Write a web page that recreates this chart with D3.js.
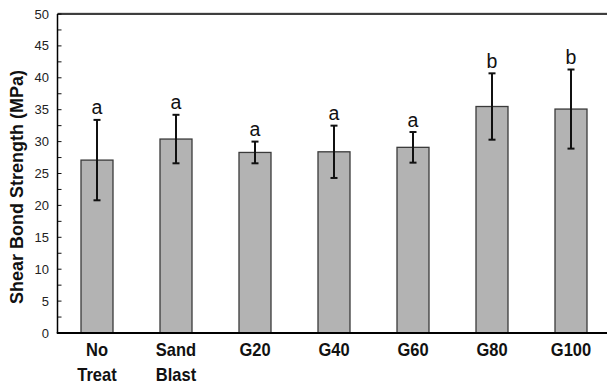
<!DOCTYPE html>
<html>
<head>
<meta charset="utf-8">
<script src="https://cdn.jsdelivr.net/npm/d3@7"></script>
<style>
  body { margin: 0; background: #fff; }
  svg { display: block; font-family: Arial, "Liberation Sans", sans-serif; }
</style>
</head>
<body>
<svg class="chart" width="607" height="385"></svg>
<script>
// data
const categories = ["No Treat", "Sand Blast", "G20", "G40", "G60", "G80", "G100"];
const means = [27.1, 30.4, 28.3, 28.4, 29.1, 35.5, 35.1];
const errors = [6.3, 3.8, 1.7, 4.1, 2.4, 5.2, 6.2];
const groupLetters = ["a", "a", "a", "a", "a", "b", "b"];
const yTicks = [0, 5, 10, 15, 20, 25, 30, 35, 40, 45, 50];

const svg = d3.select(".chart");

const plotLeft = 57.5, plotTop = 14, plotBottom = 333;
const step = 79; // distance between bar centres

const x = d3.scaleBand()
    .domain(categories)
    .range([plotLeft, plotLeft + step * categories.length])
    .paddingInner(0.595)
    .paddingOuter(0.2975);

const y = d3.scaleLinear()
    .domain([0, 50])
    .range([plotBottom, plotTop]);

// bars
svg.selectAll("rect.bar")
    .data(categories)
    .enter()
    .append("rect")
    .attr("class", "bar")
    .attr("x", d => x(d))
    .attr("y", (d, i) => y(means[i]))
    .attr("width", x.bandwidth())
    .attr("height", (d, i) => y(0) - y(means[i]))
    .style("fill", "#b3b3b3")
    .style("stroke", "#3a3a3a")
    .style("stroke-width", 1.3);

// error bars
const capHalf = 3.5;
categories.forEach((c, i) => {
    const cx = x(c) + x.bandwidth() / 2;
    const hi = y(means[i] + errors[i]);
    const lo = y(means[i] - errors[i]);
    const g = svg.append("g")
        .style("stroke", "#111")
        .style("stroke-width", 2);
    g.append("line").attr("x1", cx).attr("x2", cx).attr("y1", hi).attr("y2", lo);
    g.append("line").attr("x1", cx - capHalf).attr("x2", cx + capHalf).attr("y1", hi).attr("y2", hi);
    g.append("line").attr("x1", cx - capHalf).attr("x2", cx + capHalf).attr("y1", lo).attr("y2", lo);

    // significance letter
    svg.append("text")
        .attr("x", cx)
        .attr("y", hi - 5.5)
        .attr("text-anchor", "middle")
        .style("font-size", "19.5px")
        .style("fill", "#111")
        .text(groupLetters[i]);
});

// y axis: major ticks labelled, minor ticks in between, all pointing inward
const minorTicks = d3.range(0, 50.01, 2.5);
svg.selectAll("line.ytick")
    .data(minorTicks)
    .enter()
    .append("line")
    .attr("class", "ytick")
    .attr("x1", plotLeft)
    .attr("x2", plotLeft + 4)
    .attr("y1", d => y(d))
    .attr("y2", d => y(d))
    .style("stroke", "#111")
    .style("stroke-width", 1);

svg.selectAll("text.ylabel")
    .data(yTicks)
    .enter()
    .append("text")
    .attr("class", "ylabel")
    .attr("x", 49)
    .attr("y", d => y(d))
    .attr("text-anchor", "end")
    .attr("dominant-baseline", "central")
    .style("font-size", "13px")
    .style("fill", "#222")
    .text(d => d);

// frame: left, bottom and top lines (the right side is cut by the page)
svg.append("line")
    .attr("x1", plotLeft).attr("x2", 607)
    .attr("y1", plotTop - 1.2).attr("y2", plotTop - 1.2)
    .style("stroke", "#cfcfcf").style("stroke-width", 1);
svg.append("line")
    .attr("x1", plotLeft).attr("x2", 607)
    .attr("y1", plotTop).attr("y2", plotTop)
    .style("stroke", "#000").style("stroke-width", 1.5);
svg.append("line")
    .attr("x1", plotLeft).attr("x2", plotLeft)
    .attr("y1", plotTop).attr("y2", plotBottom)
    .style("stroke", "#000").style("stroke-width", 1.5);
svg.append("line")
    .attr("x1", plotLeft - 0.75).attr("x2", 607)
    .attr("y1", plotBottom).attr("y2", plotBottom)
    .style("stroke", "#000").style("stroke-width", 2);

// category labels, split onto two lines (glyphs are a bit taller than wide in the original)
categories.forEach(c => {
    const words = c.split(" ");
    const cx = x(c) + x.bandwidth() / 2;
    const t = svg.append("text")
        .attr("transform", `translate(${cx},356) scale(1,1.15)`)
        .attr("text-anchor", "middle")
        .style("font-size", "16.5px")
        .style("font-weight", "bold")
        .style("fill", "#111");
    words.forEach((w, k) => {
        t.append("tspan")
            .attr("x", 0)
            .attr("dy", k === 0 ? 0 : 22)
            .text(w);
    });
});

// y axis title
svg.append("text")
    .attr("transform", "translate(23,187) rotate(-90)")
    .attr("text-anchor", "middle")
    .style("font-size", "18px")
    .style("font-weight", "bold")
    .style("fill", "#111")
    .text("Shear Bond Strength (MPa)");
</script>
</body>
</html>
